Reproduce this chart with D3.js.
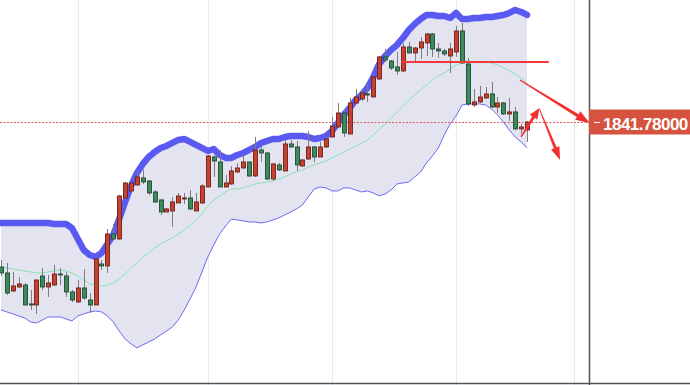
<!DOCTYPE html>
<html lang="en">
<head>
<meta charset="UTF-8">
<title>Candles with Bollinger bands</title>
<script src="https://d3js.org/d3.v7.min.js"></script>
<style>
  body { margin: 0; background: #fff; }
  svg { display: block; }
</style>
</head>
<body>
<div id="chart"></div>
<script>
// one entry per bar
const open = [
  1769.3, 1766.3, 1757.3, 1759.3, 1760.3, 1750.8, 1750.3, 1764.8, 1759.3, 1760.3,
  1765.8, 1764.8, 1756.8, 1751.8, 1758.8, 1752.8, 1750.3, 1770.8, 1769.8, 1785.8,
  1783.3, 1803.8, 1807.3, 1810.3, 1813.8, 1812.3, 1806.8, 1802.8, 1796.8, 1797.3,
  1801.3, 1803.3, 1803.8, 1797.3, 1801.3, 1809.3, 1824.3, 1821.8, 1809.3, 1810.8,
  1816.8, 1818.8, 1821.8, 1814.8, 1827.8, 1826.3, 1813.3, 1820.3, 1817.3, 1830.8,
  1829.3, 1819.8, 1823.3, 1829.3, 1824.3, 1829.3, 1834.3, 1839.3, 1846.3, 1835.8,
  1851.3, 1853.3, 1855.8, 1854.3, 1863.3, 1874.3, 1872.3, 1869.3, 1867.3, 1879.3,
  1876.3, 1878.8, 1881.3, 1885.8, 1878.3, 1877.3, 1874.8, 1876.8, 1887.3, 1870.8,
  1850.3, 1851.8, 1853.8, 1855.8, 1849.3, 1851.3, 1845.8, 1846.8, 1838.3, 1837.8
];
const high = [
  1772.8, 1771.3, 1766.8, 1764.3, 1761.3, 1757.8, 1762.8, 1768.8, 1765.3, 1770.3,
  1768.8, 1766.8, 1757.8, 1762.8, 1768.3, 1756.3, 1773.8, 1772.8, 1788.3, 1790.8,
  1805.3, 1811.8, 1811.8, 1817.8, 1817.8, 1812.8, 1807.8, 1803.3, 1798.8, 1804.3,
  1806.3, 1806.3, 1807.8, 1806.3, 1810.8, 1825.3, 1825.3, 1827.8, 1815.3, 1819.8,
  1821.3, 1825.8, 1821.8, 1834.3, 1830.3, 1826.8, 1821.3, 1821.3, 1832.8, 1832.8,
  1832.3, 1823.3, 1837.3, 1829.8, 1831.8, 1834.3, 1844.3, 1851.3, 1847.8, 1853.8,
  1858.3, 1857.8, 1860.3, 1864.8, 1874.8, 1878.3, 1872.8, 1876.8, 1881.3, 1881.8,
  1879.3, 1884.3, 1886.3, 1886.3, 1881.3, 1878.3, 1881.3, 1889.8, 1891.3, 1873.8,
  1858.3, 1859.8, 1859.3, 1861.8, 1854.3, 1851.8, 1853.8, 1849.3, 1840.8, 1842.3
];
const low = [
  1764.8, 1755.3, 1756.8, 1758.8, 1750.3, 1747.8, 1745.8, 1757.8, 1754.3, 1759.8,
  1760.3, 1754.3, 1751.8, 1751.3, 1752.8, 1746.3, 1750.3, 1767.8, 1766.3, 1782.8,
  1782.8, 1803.3, 1806.8, 1809.8, 1810.8, 1805.3, 1801.3, 1795.3, 1796.8, 1789.3,
  1801.3, 1800.8, 1797.8, 1797.3, 1800.8, 1809.3, 1814.3, 1809.3, 1809.3, 1810.3,
  1816.3, 1818.3, 1814.3, 1814.3, 1821.8, 1812.8, 1812.3, 1817.3, 1817.3, 1828.8,
  1817.3, 1819.3, 1822.8, 1821.8, 1824.3, 1828.8, 1834.3, 1839.3, 1834.3, 1835.8,
  1851.3, 1852.3, 1851.8, 1854.3, 1862.8, 1871.8, 1867.8, 1865.3, 1866.8, 1876.3,
  1871.3, 1873.3, 1874.8, 1874.3, 1873.8, 1874.8, 1866.3, 1874.3, 1870.8, 1849.8,
  1849.3, 1851.3, 1853.3, 1848.8, 1846.3, 1845.3, 1842.3, 1837.8, 1835.8, 1831.8
];
const close = [
  1766.3, 1756.3, 1759.8, 1760.8, 1750.3, 1750.3, 1762.8, 1759.3, 1761.3, 1765.8,
  1765.3, 1756.8, 1752.8, 1758.8, 1753.8, 1750.3, 1773.3, 1769.8, 1785.8, 1783.3,
  1804.8, 1811.3, 1811.3, 1814.3, 1811.8, 1806.3, 1801.8, 1796.8, 1798.3, 1801.8,
  1804.8, 1803.8, 1798.3, 1801.8, 1809.8, 1824.8, 1822.3, 1809.3, 1811.3, 1817.3,
  1818.8, 1821.8, 1814.8, 1827.8, 1826.3, 1813.3, 1820.8, 1817.8, 1830.8, 1829.3,
  1820.3, 1822.8, 1829.3, 1824.3, 1829.3, 1833.3, 1839.8, 1846.3, 1836.3, 1851.3,
  1854.3, 1856.3, 1855.3, 1864.3, 1874.3, 1872.8, 1868.8, 1867.3, 1879.3, 1876.3,
  1878.8, 1881.8, 1885.8, 1878.3, 1877.3, 1875.8, 1878.3, 1887.3, 1871.3, 1850.8,
  1851.8, 1854.3, 1855.8, 1849.3, 1851.3, 1845.8, 1846.8, 1838.3, 1839.3, 1841.78
];

// Bollinger bands
const upper = [
  1791.3, 1791.3, 1791.3, 1791.3, 1791.3, 1791.3, 1791.3, 1791.3, 1791.3, 1790.8,
  1790.8, 1790.8, 1788.8, 1783.3, 1777.8, 1775.3, 1774.3, 1776.3, 1780.8, 1785.3,
  1793.3, 1801.8, 1809.8, 1816.3, 1820.8, 1824.3, 1826.8, 1828.8, 1829.8, 1831.3,
  1832.8, 1833.3, 1831.8, 1830.3, 1828.8, 1827.3, 1828.3, 1825.3, 1823.8, 1823.8,
  1825.3, 1826.3, 1827.8, 1829.3, 1831.3, 1832.3, 1833.3, 1833.3, 1834.3, 1834.8,
  1834.8, 1834.8, 1834.3, 1833.3, 1833.8, 1834.8, 1837.3, 1841.3, 1845.3, 1848.8,
  1852.8, 1855.3, 1858.8, 1864.3, 1870.8, 1874.8, 1877.8, 1880.3, 1883.8, 1887.8,
  1890.8, 1893.3, 1895.3, 1895.3, 1894.8, 1894.8, 1893.8, 1896.3, 1893.3, 1893.3,
  1893.8, 1893.8, 1894.3, 1894.3, 1894.8, 1895.3, 1896.3, 1897.8, 1896.8, 1895.3
];
const middle = [
  1769.3, 1768.8, 1768.3, 1767.8, 1767.3, 1766.8, 1766.3, 1766.3, 1766.8, 1767.3,
  1767.8, 1767.3, 1766.3, 1764.8, 1762.8, 1760.8, 1760.3, 1759.8, 1760.3, 1761.3,
  1763.3, 1765.8, 1768.8, 1771.3, 1774.3, 1776.3, 1778.8, 1780.8, 1782.3, 1783.8,
  1785.8, 1787.8, 1790.3, 1792.8, 1795.8, 1799.8, 1802.8, 1804.8, 1806.8, 1808.3,
  1808.3, 1808.8, 1809.8, 1810.8, 1811.3, 1811.8, 1812.3, 1813.3, 1814.3, 1815.8,
  1816.8, 1817.8, 1819.3, 1820.3, 1821.3, 1822.3, 1823.8, 1825.3, 1826.8, 1828.3,
  1829.8, 1831.3, 1832.8, 1835.3, 1838.3, 1840.8, 1843.8, 1846.8, 1849.8, 1852.8,
  1855.3, 1857.8, 1860.3, 1862.8, 1864.8, 1866.3, 1868.3, 1870.3, 1871.3, 1871.8,
  1871.8, 1871.8, 1871.8, 1871.3, 1870.3, 1868.8, 1867.3, 1865.8, 1863.8, 1861.3
];
const lower = [
  1747.8, 1746.8, 1745.8, 1744.8, 1743.8, 1741.8, 1741.3, 1742.8, 1744.3, 1744.3,
  1744.3, 1743.3, 1742.3, 1744.8, 1745.8, 1746.8, 1747.3, 1746.8, 1744.8, 1741.8,
  1737.3, 1733.3, 1730.8, 1728.8, 1730.3, 1731.8, 1733.3, 1735.3, 1737.3, 1739.3,
  1742.8, 1747.8, 1753.3, 1759.3, 1766.8, 1774.3, 1780.3, 1785.8, 1789.8, 1793.3,
  1792.8, 1792.3, 1791.8, 1791.8, 1791.3, 1791.8, 1792.8, 1793.8, 1795.3, 1796.8,
  1798.3, 1800.3, 1804.3, 1808.3, 1809.3, 1808.8, 1807.3, 1807.3, 1808.8, 1808.8,
  1807.8, 1806.8, 1807.3, 1806.3, 1804.8, 1805.8, 1807.8, 1810.8, 1811.3, 1811.8,
  1814.3, 1816.8, 1821.3, 1824.8, 1828.8, 1835.3, 1840.8, 1844.8, 1850.3, 1850.8,
  1850.8, 1850.8, 1850.3, 1848.3, 1845.3, 1841.8, 1837.8, 1834.3, 1831.8, 1828.8
];

// vertical grid at these bar indices (session breaks)
const gridBars = [13, 35, 56, 77, 97];

// drawn annotations, in bar index / price
const levelLine = { from: 67.7, to: 92.7, price: 1871.8 };
const arrows = [
  { x1: 87.8, p1: 1862.8, x2: 99.6, p2: 1841.3, head: 14, hw: 10, w0: 1.2, w1: 3.4 },
  { x1: 88.0, p1: 1834.3, x2: 91.1, p2: 1848.8, head: 11, hw: 9, w0: 1.4, w1: 3.2 },
  { x1: 91.1, p1: 1848.3, x2: 94.6, p2: 1822.8, head: 13, hw: 9, w0: 0.8, w1: 3 }
];

const width = 690, height = 385;
const axisX = 589;

const x = d3.scaleLinear().domain([0, 89]).range([1, 527]);
const y = d3.scaleLinear().domain([1710.28, 1902.78]).range([height, 0]);

const bars = open.map((o, i) => ({
  i, o, h: high[i], l: low[i], c: close[i],
  up: upper[i], mid: middle[i], lo: lower[i]
}));

const svg = d3.select("#chart")
  .append("svg")
  .attr("width", width)
  .attr("height", height);

// grid
svg.selectAll(".grid")
  .data(gridBars)
  .enter().append("line")
  .attr("x1", d => Math.round(x(d)) + 0.5)
  .attr("x2", d => Math.round(x(d)) + 0.5)
  .attr("y1", 0)
  .attr("y2", height)
  .attr("stroke", "#e3eaf2")
  .attr("stroke-width", 1);

// band fill
svg.append("path")
  .datum(bars)
  .attr("fill", "#e4e4f0")
  .attr("d", d3.area()
    .x(d => x(d.i))
    .y0(d => y(d.lo))
    .y1(d => y(d.up)));

svg.append("path")
  .datum(bars)
  .attr("fill", "none")
  .attr("stroke", "#6b6bf2")
  .attr("stroke-width", 1)
  .attr("d", d3.line().x(d => x(d.i)).y(d => y(d.lo)));

svg.append("path")
  .datum(bars)
  .attr("fill", "none")
  .attr("stroke", "#86e3b6")
  .attr("stroke-width", 1)
  .attr("d", d3.line().x(d => x(d.i)).y(d => y(d.mid)));

svg.append("path")
  .datum(bars)
  .attr("fill", "none")
  .attr("stroke", "#5a5af2")
  .attr("stroke-width", 6.5)
  .attr("stroke-linecap", "round")
  .attr("stroke-linejoin", "round")
  .attr("d", d3.line().x(d => x(d.i)).y(d => y(d.up)));

// last price dotted line
const last = close[close.length - 1];
svg.append("line")
  .attr("x1", 0)
  .attr("x2", axisX)
  .attr("y1", Math.round(y(last)) + 0.5)
  .attr("y2", Math.round(y(last)) + 0.5)
  .attr("stroke", "#e05a5a")
  .attr("stroke-width", 1)
  .attr("stroke-dasharray", "2,1.5");

// candles
const candle = svg.selectAll(".candle")
  .data(bars)
  .enter().append("g")
  .attr("class", "candle");

candle.append("line")
  .attr("x1", d => Math.round(x(d.i)) + 0.5)
  .attr("x2", d => Math.round(x(d.i)) + 0.5)
  .attr("y1", d => y(d.h))
  .attr("y2", d => y(d.l))
  .attr("stroke", "#7d7d7d")
  .attr("stroke-width", 1);

candle.append("rect")
  .attr("x", d => Math.round(x(d.i)) - 1.5)
  .attr("width", 4)
  .attr("y", d => y(Math.max(d.o, d.c)))
  .attr("height", d => Math.max(1, Math.abs(y(d.o) - y(d.c))))
  .attr("fill", d => d.c >= d.o ? "#c8412f" : "#3e8a5c")
  .attr("stroke", d => d.c >= d.o ? "#6e2119" : "#1f4a31")
  .attr("stroke-width", 0.9);

// annotations
svg.append("line")
  .attr("x1", x(levelLine.from))
  .attr("x2", x(levelLine.to))
  .attr("y1", y(levelLine.price))
  .attr("y2", y(levelLine.price))
  .attr("stroke", "#f23a3a")
  .attr("stroke-width", 2);

function arrowPath(a) {
  const x1 = x(a.x1), y1 = y(a.p1), x2 = x(a.x2), y2 = y(a.p2);
  const len = Math.hypot(x2 - x1, y2 - y1);
  const ux = (x2 - x1) / len, uy = (y2 - y1) / len;
  const nx = -uy, ny = ux;
  const bx = x2 - ux * a.head, by = y2 - uy * a.head;
  const pts = [
    [x1 + nx * a.w0 / 2, y1 + ny * a.w0 / 2],
    [bx + nx * a.w1 / 2, by + ny * a.w1 / 2],
    [bx + nx * a.hw / 2, by + ny * a.hw / 2],
    [x2, y2],
    [bx - nx * a.hw / 2, by - ny * a.hw / 2],
    [bx - nx * a.w1 / 2, by - ny * a.w1 / 2],
    [x1 - nx * a.w0 / 2, y1 - ny * a.w0 / 2]
  ];
  return "M" + pts.map(p => p.join(",")).join("L") + "Z";
}

// right price axis + bottom edge
svg.append("line")
  .attr("x1", axisX + 0.5).attr("x2", axisX + 0.5)
  .attr("y1", 0).attr("y2", height)
  .attr("stroke", "#50545c").attr("stroke-width", 1.5);

svg.append("line")
  .attr("x1", 0).attr("x2", width)
  .attr("y1", 383.5).attr("y2", 383.5)
  .attr("stroke", "#50545c").attr("stroke-width", 1.5);

// last price tag
const tagY = y(last);
svg.append("rect")
  .attr("x", axisX)
  .attr("y", tagY - 12.5)
  .attr("width", width - axisX)
  .attr("height", 25)
  .attr("fill", "#d6533f");

svg.append("line")
  .attr("x1", axisX + 5).attr("x2", axisX + 11)
  .attr("y1", tagY + 0.5).attr("y2", tagY + 0.5)
  .attr("stroke", "#fff").attr("stroke-width", 1);

svg.append("text")
  .attr("x", axisX + 14)
  .attr("y", tagY + 8)
  .attr("fill", "#fff")
  .style("font-family", "'Liberation Sans', Arial, sans-serif")
  .style("font-size", "17px")
  .style("font-weight", "bold")
  .style("letter-spacing", "-0.5px")
  .text(last.toFixed(5));

// arrows sit on top of everything
svg.selectAll(".arrow")
  .data(arrows)
  .enter().append("path")
  .attr("class", "arrow")
  .attr("d", arrowPath)
  .attr("fill", "#f23030");
</script>
</body>
</html>
